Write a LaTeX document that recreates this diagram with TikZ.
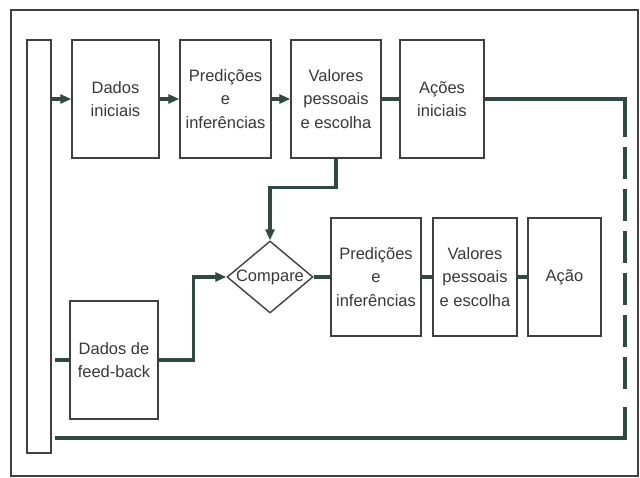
\documentclass[tikz,border=0pt]{standalone}
\usepackage{fontspec}
\setmainfont{Liberation Sans}
\usetikzlibrary{shapes.geometric,arrows.meta}
\definecolor{linec}{HTML}{2E4A42}
\definecolor{boxc}{HTML}{404040}
\definecolor{txtc}{HTML}{383838}
\begin{document}
\begin{tikzpicture}[x=1pt,y=-1pt,
  box/.style={draw=boxc,line width=1.4pt,rectangle,inner sep=0pt,minimum height=118pt,
    align=center,text=txtc,font=\fontsize{16.5}{23.5}\selectfont},
  conn/.style={draw=linec,line width=3.4pt},
  arr/.style={-{Triangle[length=11pt,width=9pt]}},
]
\useasboundingbox (0,0) rectangle (640,478);
\draw[boxc,line width=1.2pt] (11,10) rectangle (638,476);
\node[box,minimum width=24pt,minimum height=413pt] (bar) at (39,246.5) {};
\node[box,minimum width=87pt] (d1) at (115.5,99) {Dados\\iniciais};
\node[box,minimum width=91pt] (p1) at (225.5,99) {Predições\\e\\inferências};
\node[box,minimum width=90pt] (v1) at (336,99) {Valores\\pessoais\\e escolha};
\node[box,minimum width=84pt] (a1) at (442,99) {Ações\\iniciais};
\node[box,shape=diamond,aspect=1.2,minimum width=86pt,minimum height=72pt] (cmp) at (270,277) {Compare};
\node[box,minimum width=88pt] (fb) at (114,360) {Dados de\\feed-back};
\node[box,minimum width=90pt] (p2) at (376,277) {Predições\\e\\inferências};
\node[box,minimum width=84pt] (v2) at (475,277) {Valores\\pessoais\\e escolha};
\node[box,minimum width=73pt] (ac) at (564.5,277) {Ação};
\coordinate (c1) at (625,99);
\coordinate (c1a) at (625,137);
\coordinate (c1b) at (625,147);
\coordinate (c2a) at (625,397);
\coordinate (c2b) at (625,407);
\coordinate (c2) at (625,438);
\coordinate (c3) at (55,438);
\coordinate (f0) at (55,360);
% row 1
\draw[conn,arr] (bar.east |- d1.west) -- (d1.west);
\draw[conn,arr] (d1.east) -- (p1.west);
\draw[conn,arr] (p1.east) -- (v1.west);
\draw[conn] (v1.east) -- (a1.west);
\draw[conn] (a1.east) -- (c1) -- (c1a);
\draw[conn,dash pattern=on 32pt off 10pt] (c1b) -- (c2a);
\draw[conn] (c2b) -- (c2) -- (c3);
% to compare
\draw[conn,arr] (v1.south) -- ++(0,29) -| (cmp.north);
\draw[conn] (f0) -- (fb.west);
\draw[conn,arr] (fb.east) -- ++(35,0) |- (cmp.west);
% row 2
\draw[conn] (cmp.east) -- (p2.west);
\draw[conn] (p2.east) -- (v2.west);
\draw[conn] (v2.east) -- (ac.west);
\end{tikzpicture}
\end{document}
